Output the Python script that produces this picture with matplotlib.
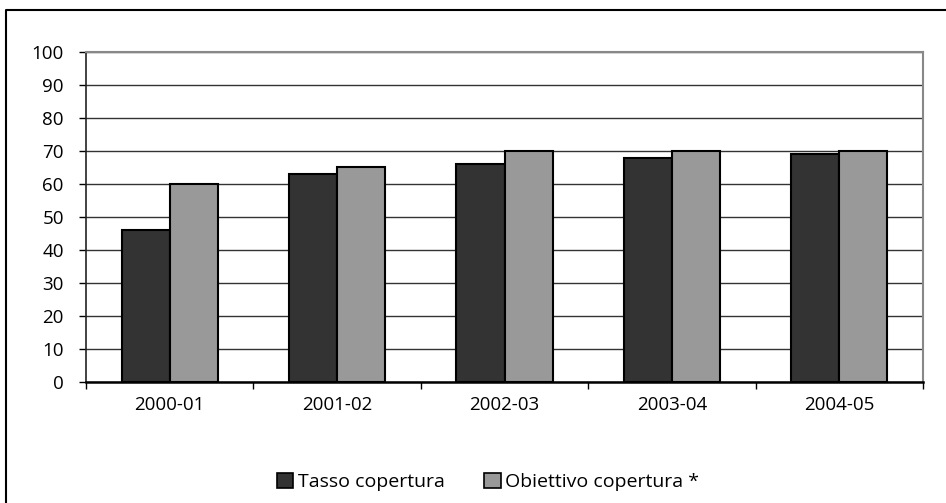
import numpy as np
import matplotlib.pyplot as plt
from matplotlib.lines import Line2D
from matplotlib.patches import Patch

plt.rcParams['font.family'] = ['Open Sans', 'DejaVu Sans']

# dati
anni = ['2000-01', '2001-02', '2002-03', '2003-04', '2004-05']
tasso = [46, 63, 66, 68, 69]
obiettivo = [60, 65, 70, 70, 70]

fig = plt.figure(figsize=(9.46, 5.03), dpi=100)
ax = fig.add_axes([86 / 946, 1 - 382 / 503, (923 - 86) / 946, (382 - 52) / 503])

x = np.arange(len(anni))
w = 0.287
ax.bar(x - w / 2, tasso, w, color='#333333', edgecolor='black', linewidth=1.5, zorder=3)
ax.bar(x + w / 2, obiettivo, w, color='#999999', edgecolor='black', linewidth=1.5, zorder=3)

ax.set_xlim(-0.5, len(anni) - 0.5)
ax.set_ylim(0, 100)
ax.set_yticks(range(0, 101, 10))
ax.yaxis.grid(True, color='#333333', linewidth=1.0, zorder=0)

# tick x tra le categorie, etichette al centro
ax.set_xticks(np.arange(len(anni) + 1) - 0.5)
ax.set_xticklabels([])
ax.set_xticks(x, minor=True)
ax.set_xticklabels(anni, minor=True)
ax.tick_params(axis='x', which='minor', length=0, pad=10, labelsize=13.5)
ax.tick_params(axis='x', which='major', length=5, width=1, color='black')
ax.tick_params(axis='y', length=5, width=1, labelsize=13.5, pad=11)

ax.spines['left'].set_color('#222222')
ax.spines['left'].set_linewidth(1.2)
ax.spines['bottom'].set_color('black')
ax.spines['bottom'].set_linewidth(1.8)
ax.spines['bottom'].set_zorder(4)
ax.spines['top'].set_color('#888888')
ax.spines['top'].set_linewidth(1.5)
ax.spines['right'].set_color('#888888')
ax.spines['right'].set_linewidth(1.5)

handles = [Patch(facecolor='#333333', edgecolor='black', linewidth=1.2),
           Patch(facecolor='#999999', edgecolor='black', linewidth=1.2)]
fig.legend(handles, ['Tasso copertura', 'Obiettivo copertura *'], loc='center',
           bbox_to_anchor=(0.516, 1 - 482 / 503), ncol=2, frameon=False, fontsize=14,
           handlelength=0.85, handleheight=0.85, handletextpad=0.25, columnspacing=2.0)

# cornice esterna (solo lati sinistro e superiore visibili)
fx = 6 / 946
fy = 1 - 10 / 503
fig.add_artist(Line2D([fx, fx, 1], [0, fy, fy], transform=fig.transFigure,
                      color='black', linewidth=1.5))

fig.savefig('out.png', dpi=100)
